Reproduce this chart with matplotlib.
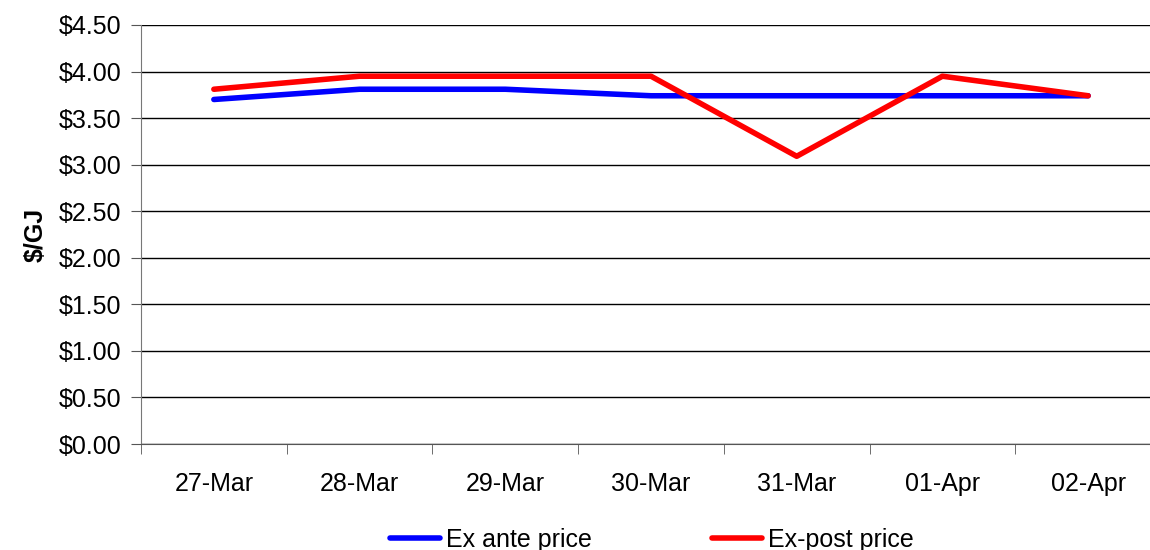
import matplotlib.pyplot as plt
from matplotlib.ticker import FuncFormatter

plt.rcParams['font.family'] = ['Liberation Sans', 'DejaVu Sans']

dates = ['27-Mar', '28-Mar', '29-Mar', '30-Mar', '31-Mar', '01-Apr', '02-Apr']
ex_ante = [3.70, 3.81, 3.81, 3.74, 3.74, 3.74, 3.74]
ex_post = [3.81, 3.95, 3.95, 3.95, 3.09, 3.95, 3.74]

fig = plt.figure(figsize=(11.5, 5.5), dpi=100)
ax = fig.add_axes([141 / 1150, 1 - 444 / 550, 1020 / 1150, 419 / 550])

x = range(len(dates))
ax.plot(x, ex_ante, color='#0000ff', lw=4, solid_capstyle='round', label='Ex ante price', zorder=3)
ax.plot(x, ex_post, color='#ff0000', lw=4, solid_capstyle='round', label='Ex-post price', zorder=4)

ax.set_xlim(-0.5, len(dates) - 0.5)
ax.set_ylim(0, 4.5)
ax.set_yticks([i * 0.5 for i in range(10)])
ax.yaxis.set_major_formatter(FuncFormatter(lambda v, p: '${:.2f}'.format(v)))
ax.yaxis.grid(True, color='black', lw=1)
ax.set_axisbelow(True)

ax.set_xticks(list(x))
ax.set_xticklabels(dates)
ax.set_xticks([i - 0.5 for i in range(len(dates) + 1)], minor=True)
ax.tick_params(axis='x', which='major', length=0, pad=20, labelsize=18)
ax.tick_params(axis='x', which='minor', length=7, color='#555555')
ax.tick_params(axis='y', length=7, labelsize=18, pad=7, color='#555555')

for s in ['top', 'right']:
    ax.spines[s].set_visible(False)
ax.spines['left'].set_color('#777777')
ax.spines['bottom'].set_color('#555555')

ax.set_ylabel('$/GJ', fontsize=18, fontweight='bold', labelpad=8)

fig.legend(loc='center', bbox_to_anchor=(652 / 1150, 1 - 540 / 550), ncol=2,
           frameon=False, fontsize=18, handlelength=2.0, handletextpad=0.25,
           columnspacing=4.8)

fig.savefig('out.png', dpi=100)
